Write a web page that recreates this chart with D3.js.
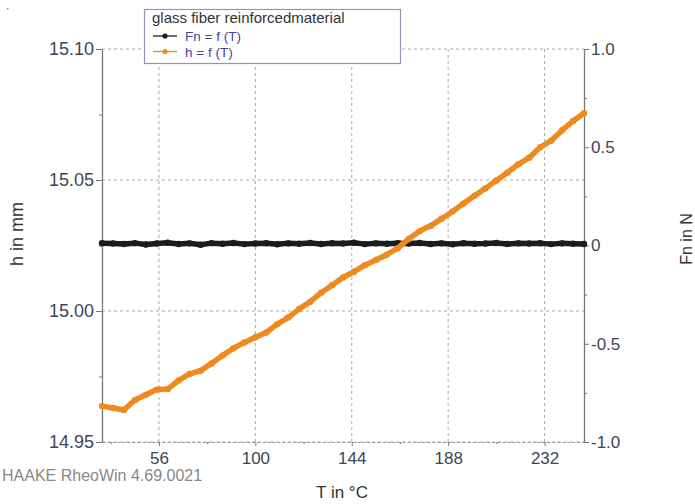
<!DOCTYPE html>
<html lang="en">
<head>
  <meta charset="UTF-8">
  <title>glass fiber reinforced material</title>
  <style>
    body { margin: 0; background: #fff; }
    svg { display: block; font-family: "Liberation Sans", Arial, sans-serif; }
  </style>
</head>
<body>
  <svg width="695" height="504"></svg>
  <script src="https://cdn.jsdelivr.net/npm/d3@7/dist/d3.min.js"></script>
  <script>
    // temperature in °C
    var temps = [30, 35, 40, 45, 50, 55, 60, 65, 70, 75, 80, 85, 90, 95, 100, 105, 110, 115, 120,
      125, 130, 135, 140, 145, 150, 155, 160, 165, 170, 175, 180, 185, 190, 195, 200, 205, 210,
      215, 220, 225, 230, 235, 240, 245, 250];
    // gap h in mm (left axis)
    var hValues = [14.9637, 14.9630, 14.9622, 14.9660, 14.9680, 14.9700, 14.9702, 14.9735, 14.9760,
      14.9772, 14.9800, 14.9830, 14.9858, 14.9880, 14.9900, 14.9918, 14.9950, 14.9975, 15.0008,
      15.0035, 15.0070, 15.0098, 15.0128, 15.0150, 15.0175, 15.0195, 15.0215, 15.0240, 15.0275,
      15.0305, 15.0325, 15.0352, 15.0380, 15.0410, 15.0440, 15.0468, 15.0498, 15.0528, 15.0560,
      15.0585, 15.0625, 15.0650, 15.0690, 15.0725, 15.0755];
    // normal force Fn in N (right axis)
    var fnValues = [0.012, 0.010, 0.008, 0.012, 0.005, 0.010, 0.014, 0.008, 0.011, 0.004, 0.012,
      0.009, 0.013, 0.007, 0.010, 0.012, 0.006, 0.011, 0.009, 0.013, 0.008, 0.012, 0.010, 0.014,
      0.007, 0.011, 0.009, 0.012, 0.010, 0.013, 0.008, 0.011, 0.006, 0.012, 0.009, 0.010, 0.013,
      0.008, 0.011, 0.010, 0.012, 0.007, 0.011, 0.009, 0.008];

    var xTicks = [56, 100, 144, 188, 232];
    var xMinor = [34, 78, 122, 166, 210];
    var hTicks = [14.95, 15.00, 15.05, 15.10];
    var hMinor = [14.975, 15.025, 15.075];
    var fnTicks = [-1.0, -0.5, 0, 0.5, 1.0];
    var fnMinor = [-0.75, -0.25, 0.25, 0.75];

    var svg = d3.select("svg")
    var pLeft = 102, pRight = 584, pTop = 49, pBottom = 442

    var x = d3.scaleLinear().domain([30, 250]).range([pLeft, pRight])
    var yh = d3.scaleLinear().domain([14.95, 15.10]).range([pBottom, pTop])
    var yf = d3.scaleLinear().domain([-1, 1]).range([pBottom, pTop])

    var hData = temps.map((t, i) => ({ t: t, v: hValues[i] }))
    var fnData = temps.map((t, i) => ({ t: t, v: fnValues[i] }))

    // speck in the corner
    svg.append("rect").attr("x", 7).attr("y", 8).attr("width", 1.5).attr("height", 1.5).attr("fill", "#888")

    // grid
    var grid = svg.append("g").attr("stroke", "#aaa").attr("stroke-dasharray", "3,3").attr("stroke-width", 1)
    grid.selectAll("line.v").data(xTicks).enter().append("line")
      .attr("x1", d => x(d)).attr("x2", d => x(d)).attr("y1", pTop).attr("y2", pBottom)
    grid.selectAll("line.h").data(hTicks).enter().append("line")
      .attr("x1", pLeft).attr("x2", pRight).attr("y1", d => yh(d)).attr("y2", d => yh(d))

    // axes
    var axisColor = "#777"
    var tickColor = "#3d4656"

    var gb = svg.append("g").attr("transform", "translate(0," + pBottom + ")")
      .call(d3.axisBottom(x).tickValues(xTicks).tickSize(4).tickSizeOuter(0).tickPadding(6))
    gb.append("g").call(d3.axisBottom(x).tickValues(xMinor).tickFormat("").tickSize(2).tickSizeOuter(0))
      .select(".domain").remove()
    gb.select(".domain").attr("stroke", "#999").attr("stroke-dasharray", "3,2")

    var gl = svg.append("g").attr("transform", "translate(" + pLeft + ",0)")
      .call(d3.axisLeft(yh).tickValues(hTicks).tickFormat(d3.format(".2f")).tickSize(6).tickSizeOuter(0).tickPadding(2))
    gl.append("g").call(d3.axisLeft(yh).tickValues(hMinor).tickFormat("").tickSize(3).tickSizeOuter(0))
      .select(".domain").remove()
    gl.select(".domain").attr("stroke", axisColor).attr("stroke-width", 1.3)

    var gr = svg.append("g").attr("transform", "translate(" + pRight + ",0)")
      .call(d3.axisRight(yf).tickValues(fnTicks).tickFormat(d => d === 0 ? "0" : d.toFixed(1)).tickSize(5).tickSizeOuter(0).tickPadding(2))
    gr.append("g").call(d3.axisRight(yf).tickValues(fnMinor).tickFormat("").tickSize(3).tickSizeOuter(0))
      .select(".domain").remove()
    gr.select(".domain").attr("stroke", axisColor).attr("stroke-width", 1.3)

    svg.selectAll(".tick line").attr("stroke", axisColor)
    svg.selectAll(".tick text").attr("fill", tickColor).style("font-size", "17px")
    gl.selectAll(".tick text").style("font-size", "18px")

    // series
    var lineH = d3.line().x(d => x(d.t)).y(d => yh(d.v))
    var lineF = d3.line().x(d => x(d.t)).y(d => yf(d.v))

    svg.append("path").datum(fnData).attr("d", lineF)
      .attr("fill", "none").attr("stroke", "#1c1c1c").attr("stroke-width", 5.5).attr("stroke-linejoin", "round")
    svg.append("g").selectAll("circle").data(fnData).enter().append("circle")
      .attr("cx", d => x(d.t)).attr("cy", d => yf(d.v)).attr("r", 3.2).attr("fill", "#1c1c1c")

    svg.append("path").datum(hData).attr("d", lineH)
      .attr("fill", "none").attr("stroke", "#ee8a1e").attr("stroke-width", 5.5).attr("stroke-linejoin", "round")
    svg.append("g").selectAll("circle").data(hData).enter().append("circle")
      .attr("cx", d => x(d.t)).attr("cy", d => yh(d.v)).attr("r", 3.2).attr("fill", "#ee8a1e")

    // axis titles
    svg.append("text").attr("transform", "translate(23,234) rotate(-90)")
      .attr("text-anchor", "middle").attr("fill", "#333").style("font-size", "18px").text("h in mm")
    svg.append("text").attr("transform", "translate(692,239) rotate(-90)")
      .attr("text-anchor", "middle").attr("fill", "#333").style("font-size", "16px").text("Fn in N")
    svg.append("text").attr("x", 342).attr("y", 498)
      .attr("text-anchor", "middle").attr("fill", "#333").style("font-size", "17px").text("T in °C")

    svg.append("text").attr("x", 2).attr("y", 481).attr("fill", "#888")
      .style("font-size", "16px").text("HAAKE RheoWin 4.69.0021")

    // legend
    var lg = svg.append("g")
    lg.append("rect").attr("x", 144.5).attr("y", 9.5).attr("width", 256).attr("height", 54)
      .attr("fill", "#fff").attr("stroke", "#9890bd").attr("stroke-width", 1.2)
    lg.append("text").attr("x", 152).attr("y", 23).attr("fill", "#333").style("font-size", "15px")
      .text("glass fiber reinforcedmaterial")
    var items = [{ name: "Fn = f (T)", color: "#1c1c1c" }, { name: "h = f (T)", color: "#ee8a1e" }]
    var it = lg.selectAll(".item").data(items).enter().append("g")
      .attr("transform", (d, i) => "translate(0," + (36 + i * 15.5) + ")")
    it.append("line").attr("x1", 153).attr("x2", 177).attr("stroke", d => d.color).attr("stroke-width", 1.3)
    it.append("circle").attr("cx", 165).attr("r", 2.6).attr("fill", d => d.color)
    it.append("text").attr("x", 185).attr("y", 5).attr("fill", "#45449a").style("font-size", "13.5px")
      .text(d => d.name)
  </script>
</body>
</html>
